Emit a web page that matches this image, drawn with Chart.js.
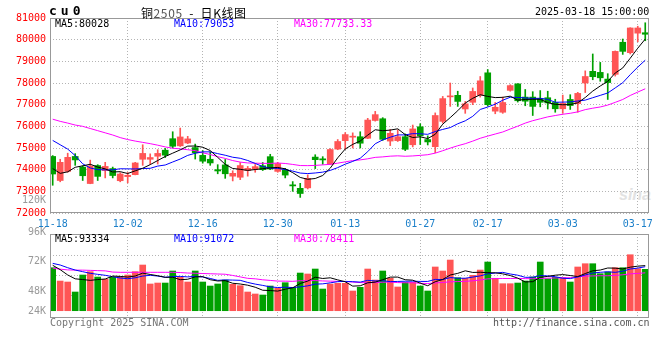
<!DOCTYPE html>
<html>
<head>
<meta charset="utf-8">
<title>铜2505 - 日K线图</title>
<script src="https://cdn.jsdelivr.net/npm/chart.js@4/dist/chart.umd.min.js"></script>
<style>
  html, body { margin: 0; padding: 0; background: #fff; }
  #wrap { position: relative; width: 660px; height: 360px; overflow: hidden; background: #fff; }
  #wrap canvas { position: absolute; left: 0; }
  #kChart { top: 0; }
  #vChart { top: 232px; }
  .t { position: absolute; font: 10px 'DejaVu Sans Mono', monospace; line-height: 10px; white-space: pre; }
  .r { text-align: right; }
  .gray { color: #999; }
  #logo { position: absolute; left: 619px; top: 186px; font: italic bold 16px 'Liberation Sans', sans-serif; color: #e2e2e2; }
</style>
</head>
<body>
<div id="wrap">
  <div id="logo">sina</div>
  <canvas id="kChart" width="660" height="232"></canvas>
  <canvas id="vChart" width="660" height="128"></canvas>

  <div class="t" style="left:49px; top:6px; font-weight:bold; font-size:13px; letter-spacing:4px;">cu0</div>
  <div class="t" style="left:141px; top:4px; line-height:12px; font:12px 'Noto Sans CJK SC', sans-serif; letter-spacing:0.6px;">铜<span style="color:#555">2505</span>  -  日K线图</div>
  <div class="t" style="left:535px; top:7px;">2025-03-18 15:00:00</div>

  <div class="t" style="left:55px; top:19px; color:#000;">MA5:80028</div>
  <div class="t" style="left:174px; top:19px; color:#00f;">MA10:79053</div>
  <div class="t" style="left:294px; top:19px; color:#f0f;">MA30:77733.33</div>

  <div class="t r gray" style="right:614px; top:195px;">120K</div>
  <div class="t r gray" style="right:614px; top:227px;">96K</div>
  <div class="t r gray" style="right:614px; top:256px;">72K</div>
  <div class="t r gray" style="right:614px; top:286px;">48K</div>
  <div class="t r gray" style="right:614px; top:306px;">24K</div>

  <div class="t" style="left:55px; top:234px; color:#000;">MA5:93334</div>
  <div class="t" style="left:174px; top:234px; color:#00f;">MA10:91072</div>
  <div class="t" style="left:294px; top:234px; color:#f0f;">MA30:78411</div>

  <div class="t" style="left:50px; top:318px; color:#777;">Copyright 2025 SINA.COM</div>
  <div class="t" style="left:493px; top:318px; color:#555;">http://finance.sina.com.cn</div>
</div>

<script>
// trading days shown on the chart
const dates = [
  '11-18','11-19','11-20','11-21','11-22','11-25','11-26','11-27','11-28','11-29',
  '12-02','12-03','12-04','12-05','12-06','12-09','12-10','12-11','12-12','12-13',
  '12-16','12-17','12-18','12-19','12-20','12-23','12-24','12-25','12-26','12-27',
  '12-30','12-31','01-02','01-03','01-06','01-07','01-08','01-09','01-10',
  '01-13','01-14','01-15','01-16','01-17','01-20','01-21','01-22','01-23','01-24',
  '01-27','02-05','02-06','02-07',
  '02-10','02-11','02-12','02-13','02-14',
  '02-17','02-18','02-19','02-20','02-21',
  '02-24','02-25','02-26','02-27','02-28',
  '03-03','03-04','03-05','03-06','03-07',
  '03-10','03-11','03-12','03-13','03-14',
  '03-17','03-18'
];
const tickDates = ['11-18','12-02','12-16','12-30','01-13','01-27','02-17','03-03','03-17'];

const open = [
  74610,73500,73920,74610,74120,73360,74190,73960,74050,73490,
  73680,73770,74480,74480,74620,74900,75430,75100,75230,75020,
  74660,74480,74000,74220,73700,73650,73960,74020,74180,74600,
  73920,74000,73300,73140,73160,74580,74500,74250,74950,75340,
  75500,75520,75450,76270,76350,75320,75340,75520,75150,75980,
  75390,75060,76230,77360,77430,76800,77110,77440,78470,76700,
  76650,77660,77960,77350,77350,77280,77320,77100,76810,77240,
  77050,78000,78540,78490,78180,78400,79880,79400,80300,80320
];
const high = [
  74650,74480,74760,74740,74180,74440,74230,74340,74120,73860,
  73870,74340,75150,74730,74920,74980,75750,75920,75540,75180,
  74880,74820,74230,74470,73950,74330,74150,74240,74330,74710,
  74340,74060,73450,73370,73760,74690,74600,74970,75390,75710,
  75700,75750,76370,76690,76400,75860,75840,75650,76060,76120,
  75560,76620,77380,78000,77620,77150,77770,78300,78620,77100,
  77350,77920,77970,77700,77600,77650,77620,77250,77440,77460,
  77570,78560,79340,78950,78430,79480,80030,80550,80620,80780
];
const low = [
  73280,73440,73880,74200,73500,73350,73500,73620,73620,73440,
  73390,73760,74200,74250,74260,74560,75000,75070,75200,74490,
  74300,74200,73810,73600,73480,73540,73700,73880,73960,74000,
  73880,73620,73000,72720,73110,74050,74250,74240,74920,74940,
  75000,75000,75430,76240,75350,75110,75300,74880,75050,75160,
  75140,74780,76150,76920,76920,76600,77000,77350,76930,76580,
  76600,77620,77120,76950,76500,76900,76800,76650,76600,76780,
  76650,77560,78150,78080,77240,78320,79320,79340,79900,79950
];
const close = [
  73800,74340,74570,74450,73720,74170,73690,74150,73730,73800,
  73740,74310,74750,74560,74750,74670,75080,75510,75420,74780,
  74390,74310,73940,73810,73830,74190,74060,74140,74000,74030,
  74280,73750,73250,72900,73600,74460,74450,74930,75300,75620,
  75540,75220,76290,76540,75400,75680,75520,74940,75880,75560,
  75280,76500,77280,77390,77150,77040,77610,78100,77000,76880,
  77100,77880,77180,77160,76920,77110,77080,76810,77060,76960,
  77520,78300,78290,78240,78020,79460,79460,80540,80540,80250
];
const ma5 = [
  74050,73830,73900,74110,74176,74250,74120,74036,73892,73908,
  73822,73946,74066,74232,74422,74608,74762,74914,75086,75092,
  75036,74882,74568,74246,74056,74016,73966,74006,74044,74084,
  74102,74040,73862,73642,73556,73592,73732,74068,74548,74952,
  75168,75322,75594,75842,75798,75826,75886,75616,75484,75516,
  75436,75632,76100,76402,76720,77072,77294,77458,77380,77326,
  77338,77392,77208,77240,77248,77250,77090,77016,76996,77004,
  77086,77330,77626,77862,78074,78462,78694,79144,79604,80028
];
const ma10 = [
  75350,75150,74950,74650,74270,74080,74000,73990,73990,74042,
  74036,74033,74051,74062,74165,74215,74354,74490,74659,74757,
  74822,74822,74741,74666,74574,74526,74424,74287,74145,74070,
  74059,74003,73934,73843,73820,73847,73886,73965,74095,74254,
  74380,74527,74831,75195,75375,75497,75604,75605,75663,75657,
  75631,75759,75858,75943,76118,76254,76463,76779,76891,77023,
  77205,77343,77333,77310,77287,77294,77241,77112,77118,77126,
  77168,77210,77321,77429,77539,77774,78012,78385,78733,79053
];
const ma30 = [
  76330,76230,76150,76060,76000,75900,75800,75700,75600,75480,
  75390,75320,75260,75200,75130,75050,74990,74960,74920,74880,
  74780,74700,74600,74520,74420,74350,74310,74300,74290,74290,
  74306,74286,74242,74190,74186,74196,74221,74247,74300,74360,
  74420,74451,74502,74568,74590,74623,74638,74619,74634,74660,
  74690,74763,74874,74994,75104,75199,75318,75450,75550,75645,
  75739,75876,76007,76149,76260,76348,76436,76499,76557,76602,
  76668,76771,76837,76894,76981,77107,77239,77425,77581,77733
];

const volume = [
  89000,61400,59400,38700,73900,80800,69700,64900,69100,70400,
  73900,80800,94600,55300,57300,57300,82200,69100,59400,82200,
  59400,51100,55300,63500,54600,51800,38700,34600,32500,51100,
  46300,58000,48400,78000,76000,86300,44900,55300,56700,56700,
  40800,48400,86300,63500,82200,67100,49100,58800,58800,51100,
  40800,90500,82200,104900,68300,67100,73300,84200,100800,67100,
  55900,55900,57300,61500,69800,100800,66200,69100,68300,59400,
  90500,97300,97300,76600,80100,89000,89000,115900,86900,85700
];
const vma5 = [
  94000,85000,74000,66000,64500,62800,64500,65600,71700,71000,
  69600,71800,77800,75000,72400,69100,69300,64200,65100,70000,
  70500,64200,61500,62300,56800,55300,52800,48600,42400,41700,
  40600,44500,47300,56400,61300,69300,66700,68100,63800,60000,
  50900,51600,57800,59100,64200,69500,69600,64100,63200,57000,
  51700,60000,64700,73900,77300,82600,79200,79600,78700,78500,
  76300,72800,67400,59500,60100,69100,71100,73500,74800,72800,
  70700,76900,82600,84200,88400,88100,86400,90100,92200,93334
];
const vma10 = [
  98000,94600,89000,84200,80800,77400,75300,73300,70400,67700,
  66200,68200,71700,73300,71700,69300,70600,71000,70000,71200,
  69800,66800,62900,63700,63400,62900,58500,55100,52400,49300,
  48000,48600,48000,49400,51500,55000,55600,57700,60100,60700,
  60100,59200,62900,61500,62100,60200,60600,61000,61200,60600,
  60600,64800,64400,68600,67200,67200,69600,72100,76300,77900,
  79400,76000,73500,69100,69300,72700,72000,70400,67200,66400,
  69900,74000,78000,79500,80600,79400,81700,86300,88200,91072
];
const vma30 = [
  88000,86000,84500,84000,84000,83500,83000,82500,80000,79500,
  79500,79500,79500,79500,79500,79500,79500,79000,78000,77500,
  77000,76500,76000,75500,73000,70000,67000,66000,64000,62700,
  61300,61200,60800,62100,62200,62400,61600,61200,60800,60400,
  59300,58200,57900,58200,59000,59300,58200,57900,57900,56800,
  56200,57500,58400,59800,60300,60800,61900,63600,65900,66400,
  66700,66600,66900,66400,66200,66700,67400,67800,68200,68300,
  70000,71600,72000,72400,72300,73100,74400,76300,77200,78411
];

const UP = '#ff5555';
const DOWN = '#00a000';
const GRID = '#b4b4b4';
const monoFont = { family: 'DejaVu Sans Mono', size: 10 };

const idx = dates.map((d, i) => i);
const candleColor = idx.map(i => close[i] >= open[i] ? UP : DOWN);
const tickIdx = tickDates.map(d => dates.indexOf(d));
const pts = arr => idx.map(i => ({ x: i, y: arr[i] }));

// solid grey frame round the plot area
const frame = {
  id: 'frame',
  afterDraw(chart) {
    const { ctx, chartArea: a } = chart;
    ctx.save();
    ctx.strokeStyle = '#999';
    ctx.lineWidth = 1;
    ctx.strokeRect(Math.round(a.left) + 0.5, Math.round(a.top) + 0.5,
      Math.round(a.right - a.left) - 1, Math.round(a.bottom - a.top) - 1);
    ctx.restore();
  }
};

function xAxis(showLabels, height) {
  return {
    type: 'linear',
    min: -0.36,
    max: 79.5,
    offset: false,
    afterBuildTicks: s => { s.ticks = tickIdx.map(v => ({ value: v })); },
    afterFit: s => { s.height = height; },
    grid: {
      color: c => c.index === 0 ? 'rgba(0,0,0,0)' : GRID,
      drawTicks: false,
      offset: false
    },
    border: { display: false, dash: [1, 2] },
    ticks: {
      display: showLabels,
      color: '#1a7fc9',
      padding: 5,
      maxRotation: 0,
      autoSkip: false,
      font: monoFont,
      callback: v => dates[v]
    }
  };
}

function maLine(arr, color) {
  return {
    type: 'line',
    data: pts(arr),
    borderColor: color,
    borderWidth: 1,
    pointRadius: 0,
    tension: 0
  };
}

const common = {
  responsive: false,
  animation: false,
  devicePixelRatio: 1,
  events: [],
  plugins: { legend: { display: false }, tooltip: { enabled: false } }
};

new Chart(document.getElementById('kChart'), {
  type: 'bar',
  data: {
    datasets: [
      maLine(ma5, '#000'),
      maLine(ma10, '#0000ff'),
      maLine(ma30, '#ff00ff'),
      {
        type: 'bar',
        data: idx.map(i => ({ x: i, y: [open[i], close[i]] })),
        backgroundColor: candleColor,
        barThickness: 6,
        minBarLength: 1,
        grouped: false
      },
      {
        type: 'bar',
        data: idx.map(i => ({ x: i, y: [low[i], high[i]] })),
        backgroundColor: candleColor,
        barThickness: 1,
        grouped: false
      }
    ]
  },
  options: {
    ...common,
    layout: { padding: { top: 18, right: 11, left: 0, bottom: 0 } },
    scales: {
      x: xAxis(true, 19),
      y: {
        min: 72000,
        max: 81000,
        afterFit: s => { s.width = 50; },
        grid: { color: GRID, drawTicks: false },
        border: { display: false, dash: [1, 2] },
        ticks: { stepSize: 1000, color: '#f00', padding: 4, font: monoFont, callback: v => String(v) }
      }
    }
  },
  plugins: [frame]
});

new Chart(document.getElementById('vChart'), {
  type: 'bar',
  data: {
    datasets: [
      maLine(vma5, '#000'),
      maLine(vma10, '#0000ff'),
      maLine(vma30, '#ff00ff'),
      {
        type: 'bar',
        data: pts(volume),
        backgroundColor: candleColor,
        barThickness: 6,
        grouped: false
      }
    ]
  },
  options: {
    ...common,
    layout: { padding: { top: 2, right: 11, left: 0, bottom: 0 } },
    scales: {
      x: xAxis(false, 42),
      y: {
        min: -15100,
        max: 158800,
        afterFit: s => { s.width = 50; },
        afterBuildTicks: s => { s.ticks = [32500, 73900, 115300].map(v => ({ value: v })); },
        grid: { color: GRID, drawTicks: false },
        border: { display: false, dash: [1, 2] },
        ticks: { display: false }
      }
    }
  },
  plugins: [frame]
});
</script>
</body>
</html>
